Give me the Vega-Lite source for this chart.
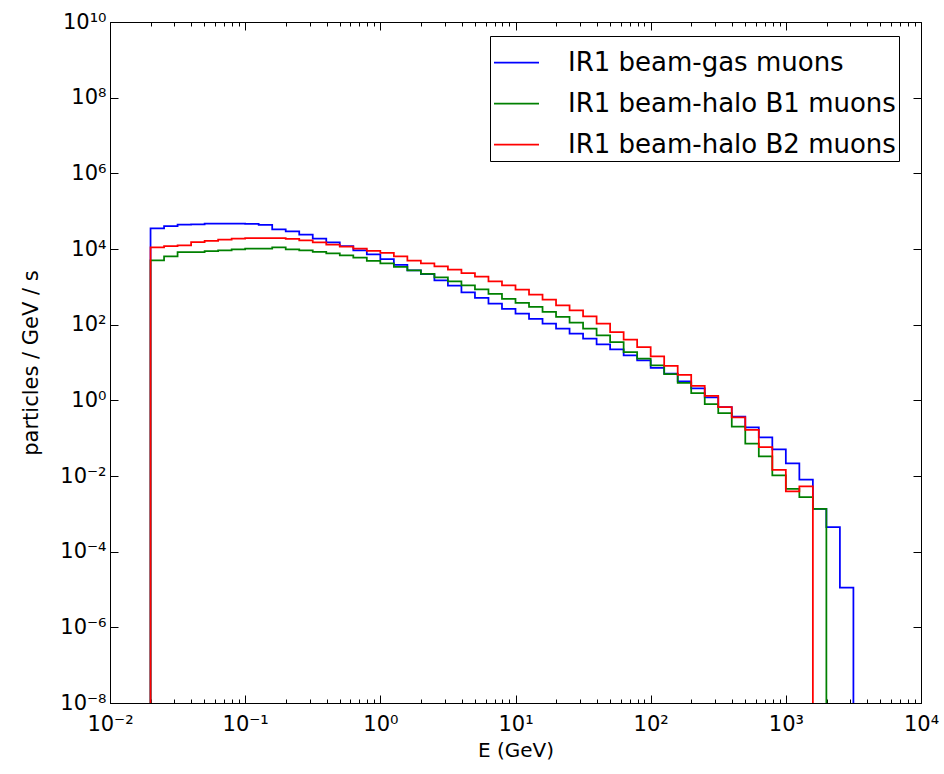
{
  "$schema": "https://vega.github.io/schema/vega-lite/v6.json",
  "width": 811,
  "height": 681,
  "autosize": {"type": "none"},
  "padding": {"left": 110, "top": 22, "right": 23, "bottom": 71},
  "background": "white",
  "config": {"view": {"stroke": "black", "strokeWidth": 1}, "font": "DejaVu Sans"},
  "data": {"values": [
    {"i": 0, "E": 0.01995, "gas": 1e-8, "b1": 1e-8, "b2": 1e-8},
    {"i": 1, "E": 0.01995, "gas": 35200, "b1": 5020, "b2": 11100},
    {"i": 2, "E": 0.02512, "gas": 40500, "b1": 6410, "b2": 12000},
    {"i": 3, "E": 0.03162, "gas": 44100, "b1": 8320, "b2": 12500},
    {"i": 4, "E": 0.03981, "gas": 44900, "b1": 8320, "b2": 15300},
    {"i": 5, "E": 0.05012, "gas": 46900, "b1": 8850, "b2": 16300},
    {"i": 6, "E": 0.0631, "gas": 46900, "b1": 9230, "b2": 17700},
    {"i": 7, "E": 0.07943, "gas": 46900, "b1": 9810, "b2": 18900},
    {"i": 8, "E": 0.1, "gas": 46300, "b1": 10200, "b2": 19500},
    {"i": 9, "E": 0.1259, "gas": 43600, "b1": 10200, "b2": 19500},
    {"i": 10, "E": 0.1585, "gas": 33100, "b1": 11100, "b2": 19500},
    {"i": 11, "E": 0.1995, "gas": 29300, "b1": 9810, "b2": 18600},
    {"i": 12, "E": 0.2512, "gas": 24000, "b1": 9230, "b2": 17000},
    {"i": 13, "E": 0.3162, "gas": 18800, "b1": 8420, "b2": 15000},
    {"i": 14, "E": 0.3981, "gas": 15000, "b1": 7690, "b2": 13100},
    {"i": 15, "E": 0.5012, "gas": 12000, "b1": 6810, "b2": 11600},
    {"i": 16, "E": 0.631, "gas": 9230, "b1": 5920, "b2": 10200},
    {"i": 17, "E": 0.7943, "gas": 7230, "b1": 4870, "b2": 8950},
    {"i": 18, "E": 1, "gas": 5430, "b1": 4180, "b2": 7930},
    {"i": 19, "E": 1.259, "gas": 3820, "b1": 3380, "b2": 6410},
    {"i": 20, "E": 1.585, "gas": 2730, "b1": 2730, "b2": 4930},
    {"i": 21, "E": 1.995, "gas": 2170, "b1": 2210, "b2": 4180},
    {"i": 22, "E": 2.512, "gas": 1490, "b1": 1780, "b2": 3480},
    {"i": 23, "E": 3.162, "gas": 1080, "b1": 1400, "b2": 2850},
    {"i": 24, "E": 3.981, "gas": 716, "b1": 1100, "b2": 2320},
    {"i": 25, "E": 5.012, "gas": 512, "b1": 859, "b2": 1860},
    {"i": 26, "E": 6.31, "gas": 360, "b1": 653, "b2": 1400},
    {"i": 27, "E": 7.943, "gas": 262, "b1": 482, "b2": 1100},
    {"i": 28, "E": 10, "gas": 196, "b1": 378, "b2": 844},
    {"i": 29, "E": 12.59, "gas": 143, "b1": 296, "b2": 622},
    {"i": 30, "E": 15.85, "gas": 107, "b1": 218, "b2": 459},
    {"i": 31, "E": 19.95, "gas": 78.5, "b1": 161, "b2": 324},
    {"i": 32, "E": 25.12, "gas": 58, "b1": 113, "b2": 239},
    {"i": 33, "E": 31.62, "gas": 42.8, "b1": 78.5, "b2": 166},
    {"i": 34, "E": 39.81, "gas": 30.2, "b1": 52.3, "b2": 107},
    {"i": 35, "E": 50.12, "gas": 22.3, "b1": 34.8, "b2": 63.8},
    {"i": 36, "E": 63.1, "gas": 15.5, "b1": 18.9, "b2": 40.3},
    {"i": 37, "E": 79.43, "gas": 11.4, "b1": 12.6, "b2": 25.6},
    {"i": 38, "E": 100, "gas": 7.23, "b1": 8.42, "b2": 14.6},
    {"i": 39, "E": 125.9, "gas": 5.08, "b1": 4.96, "b2": 8.17},
    {"i": 40, "E": 158.5, "gas": 3.18, "b1": 2.9, "b2": 4.72},
    {"i": 41, "E": 199.5, "gas": 2.08, "b1": 1.55, "b2": 2.42},
    {"i": 42, "E": 251.2, "gas": 1.2, "b1": 0.798, "b2": 1.32},
    {"i": 43, "E": 316.2, "gas": 0.665, "b1": 0.462, "b2": 0.665},
    {"i": 44, "E": 398.1, "gas": 0.371, "b1": 0.202, "b2": 0.355},
    {"i": 45, "E": 501.2, "gas": 0.193, "b1": 0.0717, "b2": 0.166},
    {"i": 46, "E": 631, "gas": 0.105, "b1": 0.0331, "b2": 0.0583},
    {"i": 47, "E": 794.3, "gas": 0.0507, "b1": 0.0104, "b2": 0.0146},
    {"i": 48, "E": 1000, "gas": 0.0216, "b1": 0.00458, "b2": 0.00393},
    {"i": 49, "E": 1259, "gas": 0.00801, "b1": 0.00278, "b2": 0.00533},
    {"i": 50, "E": 1585, "gas": 0.00136, "b1": 0.00136, "b2": 1e-8},
    {"i": 51, "E": 1995, "gas": 0.000448, "b1": 1e-8},
    {"i": 52, "E": 2512, "gas": 0.0000112},
    {"i": 53, "E": 3162, "gas": 1e-8}
  ]},
  "transform": [
    {"fold": ["gas", "b1", "b2"], "as": ["series", "v"]},
    {"filter": "isValid(datum.v)"}
  ],
  "layer": [
    {
      "mark": {"type": "line", "interpolate": "step-after", "strokeWidth": 1.75, "clip": true},
      "encoding": {
        "x": {
          "field": "E", "type": "quantitative",
          "scale": {"type": "log", "domain": [0.01, 10000], "nice": false},
          "axis": {
            "orient": "bottom",
            "values": [0.01,0.02,0.03,0.04,0.05,0.06,0.07,0.08,0.09,0.1,0.2,0.3,0.4,0.5,0.6,0.7,0.8,0.9,1,2,3,4,5,6,7,8,9,10,20,30,40,50,60,70,80,90,100,200,300,400,500,600,700,800,900,1000,2000,3000,4000,5000,6000,7000,8000,9000,10000],
            "labelExpr": "abs(log(datum.value)/LN10 - round(log(datum.value)/LN10)) < 0.001 ? '10' + (round(log(datum.value)/LN10) < 0 ? '⁻' : '') + ['⁰','¹','²','³','⁴','⁵','⁶','⁷','⁸','⁹','¹⁰'][abs(round(log(datum.value)/LN10))] : ''",
            "tickSize": {"condition": {"test": "abs(log(datum.value)/LN10 - round(log(datum.value)/LN10)) < 0.001", "value": -8}, "value": -4},
            "tickColor": "black", "tickWidth": 1, "domainColor": "black",
            "labelFont": "DejaVu Sans", "labelFontSize": 21, "labelColor": "black",
            "labelPadding": 18, "labelOverlap": false, "labelFlush": false, "labelBound": false,
            "title": "E (GeV)", "titleFont": "DejaVu Sans", "titleFontSize": 20, "titleFontWeight": "normal", "titleColor": "black", "titlePadding": 2,
            "grid": false
          }
        },
        "y": {
          "field": "v", "type": "quantitative",
          "scale": {"type": "log", "domain": [1e-8, 1e10], "nice": false},
          "axis": {
            "orient": "left",
            "values": [1e-8,1e-6,1e-4,0.01,1,100,10000,1e6,1e8,1e10],
            "labelExpr": "'10' + (round(log(datum.value)/LN10) < 0 ? '⁻' : '') + ['⁰','¹','²','³','⁴','⁵','⁶','⁷','⁸','⁹','¹⁰'][abs(round(log(datum.value)/LN10))]",
            "tickSize": -8, "tickColor": "black", "domainColor": "black",
            "labelFont": "DejaVu Sans", "labelFontSize": 21, "labelColor": "black",
            "labelPadding": 12, "labelOverlap": false, "labelFlush": false, "labelBound": false,
            "title": "particles / GeV / s", "titleFont": "DejaVu Sans", "titleFontSize": 21, "titleFontWeight": "normal", "titleColor": "black", "titlePadding": 18,
            "grid": false
          }
        },
        "color": {
          "field": "series", "type": "nominal",
          "scale": {"domain": ["gas", "b1", "b2"], "range": ["#0000ff", "#008000", "#ff0000"]},
          "legend": {
            "orient": "none", "legendX": 380, "legendY": 14, "direction": "vertical", "title": null,
            "labelExpr": "datum.label == 'gas' ? 'IR1 beam-gas muons' : datum.label == 'b1' ? 'IR1 beam-halo B1 muons' : 'IR1 beam-halo B2 muons'",
            "symbolType": "stroke", "symbolSize": 2025, "symbolStrokeWidth": 1.75,
            "labelFont": "DejaVu Sans", "labelFontSize": 26, "labelColor": "black", "labelLimit": 600, "labelOffset": 28,
            "rowPadding": 4, "padding": 3, "strokeColor": "black", "fillColor": "white", "cornerRadius": 0
          }
        },
        "order": {"field": "i", "type": "quantitative"}
      }
    },
    {
      "mark": {"type": "point", "opacity": 0},
      "encoding": {
        "x": {
          "field": "E", "type": "quantitative",
          "axis": {
            "orient": "top", "labels": false, "title": null, "domain": false, "grid": false,
            "values": [0.01,0.02,0.03,0.04,0.05,0.06,0.07,0.08,0.09,0.1,0.2,0.3,0.4,0.5,0.6,0.7,0.8,0.9,1,2,3,4,5,6,7,8,9,10,20,30,40,50,60,70,80,90,100,200,300,400,500,600,700,800,900,1000,2000,3000,4000,5000,6000,7000,8000,9000,10000],
            "tickSize": {"condition": {"test": "abs(log(datum.value)/LN10 - round(log(datum.value)/LN10)) < 0.001", "value": -8}, "value": -4},
            "tickColor": "black"
          }
        },
        "y": {
          "field": "v", "type": "quantitative",
          "axis": {
            "orient": "right", "labels": false, "title": null, "domain": false, "grid": false,
            "values": [1e-8,1e-6,1e-4,0.01,1,100,10000,1e6,1e8,1e10],
            "tickSize": -8, "tickColor": "black"
          }
        }
      }
    }
  ],
  "resolve": {"axis": {"x": "independent", "y": "independent"}}
}
